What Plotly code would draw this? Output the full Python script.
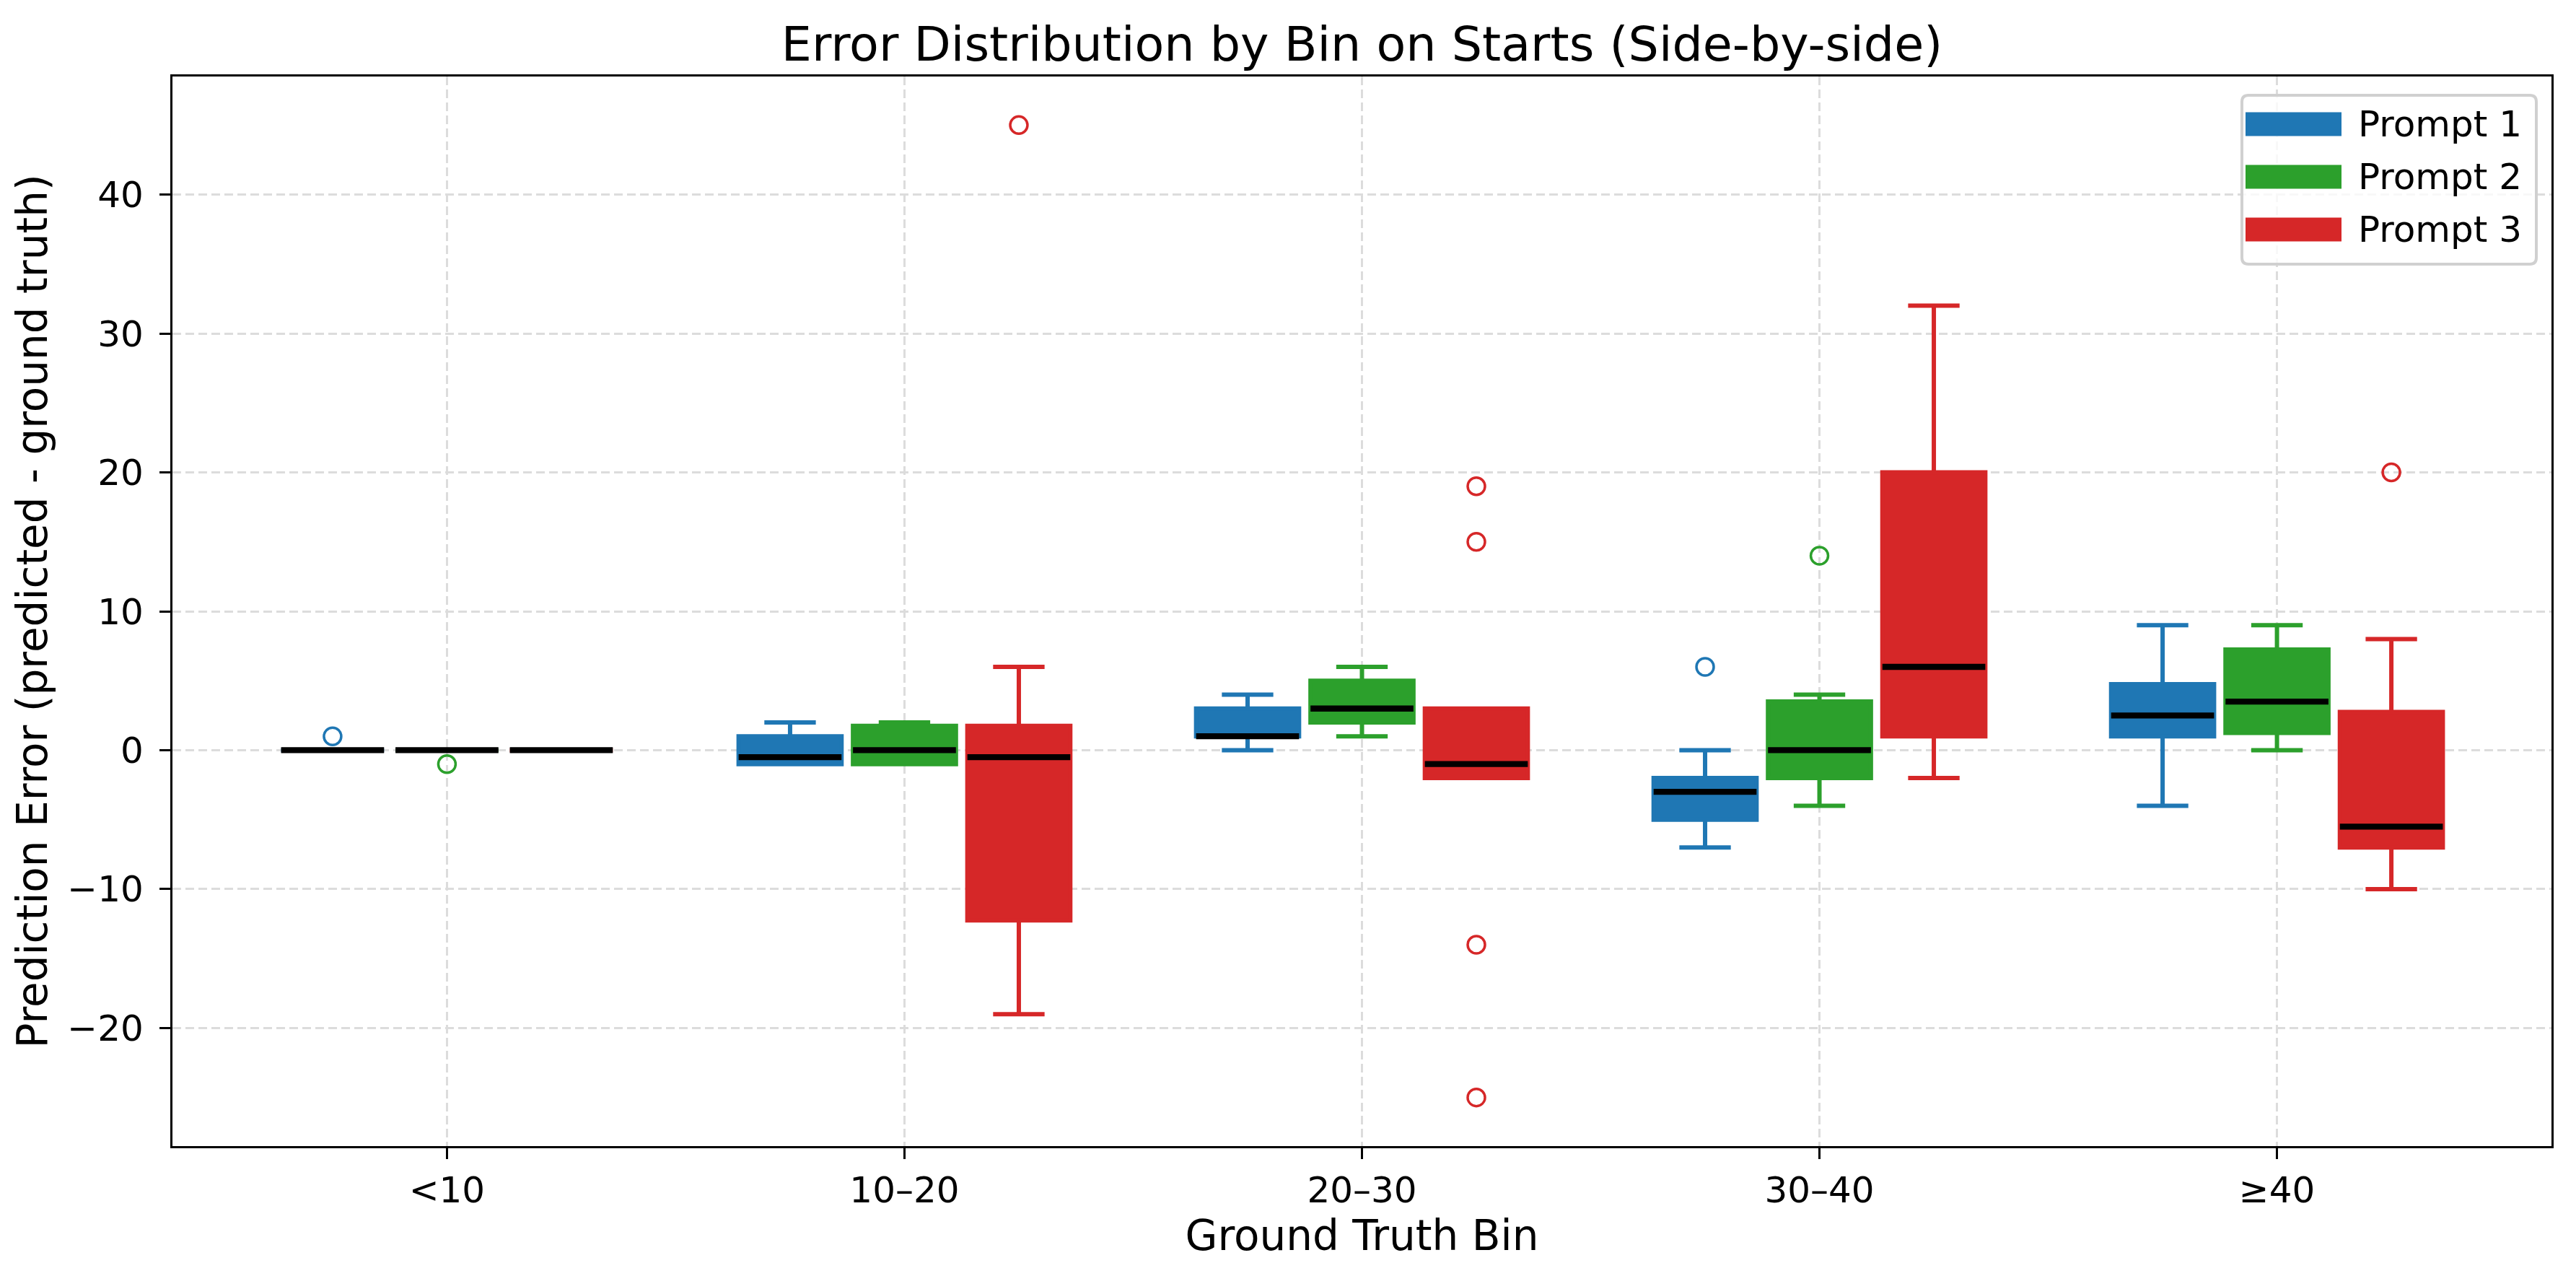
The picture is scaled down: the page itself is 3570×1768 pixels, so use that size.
import plotly.graph_objects as go

# ---------------- data ----------------
bins = ["<10", "10–20", "20–30", "30–40", "≥40"]
prompts = ["Prompt 1", "Prompt 2", "Prompt 3"]
colors = ["#1f77b4", "#2ca02c", "#d62728"]

p1_low = [0, -1, 0, -7, -4]
p1_q1 = [0, -1, 1, -5, 1]
p1_med = [0, -0.5, 1, -3, 2.5]
p1_q3 = [0, 1, 3, -2, 4.75]
p1_high = [0, 2, 4, 0, 9]
p1_out = [[1], [], [], [6], []]

p2_low = [0, -1, 1, -4, 0]
p2_q1 = [0, -1, 2, -2, 1.25]
p2_med = [0, 0, 3, 0, 3.5]
p2_q3 = [0, 1.75, 5, 3.5, 7.25]
p2_high = [0, 2, 6, 4, 9]
p2_out = [[-1], [], [], [14], []]

p3_low = [0, -19, -2, -2, -10]
p3_q1 = [0, -12.25, -2, 1, -7]
p3_med = [0, -0.5, -1, 6, -5.5]
p3_q3 = [0, 1.75, 3, 20, 2.75]
p3_high = [0, 6, 3, 32, 8]
p3_out = [[], [45], [19, 15, -14, -25], [], [20]]

y_ticks = [-20, -10, 0, 10, 20, 30, 40]

series = [
    (p1_low, p1_q1, p1_med, p1_q3, p1_high, p1_out),
    (p2_low, p2_q1, p2_med, p2_q3, p2_high, p2_out),
    (p3_low, p3_q1, p3_med, p3_q3, p3_high, p3_out),
]

# ---------------- styling ----------------
W, H = 3570, 1768
ML, MR, MT, MB = 239, 34, 106, 180
offsets = [-0.25, 0.0, 0.25]
box_w = 0.225
FONT = "DejaVu Sans"

fig = go.Figure()

for k, (low, q1, med, q3, high, outs) in enumerate(series):
    xs = [i + offsets[k] for i in range(len(bins))]
    fig.add_trace(go.Box(
        x=xs, q1=q1, median=med, q3=q3, lowerfence=low, upperfence=high,
        width=box_w, whiskerwidth=0.5,
        line=dict(color=colors[k], width=6),
        fillcolor=colors[k], boxpoints=False, showlegend=False,
        name=prompts[k], hoverinfo="skip",
    ))

for k, (low, q1, med, q3, high, outs) in enumerate(series):
    xs = [i + offsets[k] for i in range(len(bins))]
    mx, my = [], []
    for x, m in zip(xs, med):
        mx += [x - box_w / 2, x + box_w / 2, None]
        my += [m, m, None]
    fig.add_trace(go.Scatter(x=mx, y=my, mode="lines",
                             line=dict(color="black", width=8.3),
                             showlegend=False, hoverinfo="skip"))
    ox, oy = [], []
    for x, o in zip(xs, outs):
        for v in o:
            ox.append(x)
            oy.append(v)
    fig.add_trace(go.Scatter(x=ox, y=oy, mode="markers",
                             marker=dict(symbol="circle-open", size=24,
                                         color=colors[k],
                                         line=dict(width=3.5, color=colors[k])),
                             showlegend=False, hoverinfo="skip"))

# ---------------- custom legend (matplotlib-like) ----------------
PW, PH = W - ML - MR, H - MT - MB


def fx(px):
    return (px - ML) / PW


def fy(py):
    return (H - MB - py) / PH


shapes = []
x0, x1, y0, y1 = 3107, 3515, 132, 366
r = 9
rx, ry = r / PW, r / PH
X0, X1, Y0, Y1 = fx(x0), fx(x1), fy(y1), fy(y0)
path = (f"M{X0+rx},{Y1} L{X1-rx},{Y1} Q{X1},{Y1} {X1},{Y1-ry} "
        f"L{X1},{Y0+ry} Q{X1},{Y0} {X1-rx},{Y0} L{X0+rx},{Y0} "
        f"Q{X0},{Y0} {X0},{Y0+ry} L{X0},{Y1-ry} Q{X0},{Y1} {X0+rx},{Y1} Z")
shapes.append(dict(type="path", xref="paper", yref="paper", path=path,
                   fillcolor="rgba(255,255,255,0.8)",
                   line=dict(color="#d0d0d0", width=4), layer="above"))
annotations = []
row_c = [172, 245, 318]
for k in range(3):
    shapes.append(dict(type="rect", xref="paper", yref="paper",
                       x0=fx(3112), x1=fx(3245),
                       y0=fy(row_c[k] + 16.5), y1=fy(row_c[k] - 16.5),
                       fillcolor=colors[k], line=dict(width=0), layer="above"))
    annotations.append(dict(xref="paper", yref="paper", x=fx(3266), y=fy(row_c[k]),
                            xanchor="left", yanchor="middle", showarrow=False,
                            text=prompts[k], font=dict(family=FONT, size=50, color="black")))

grid_kw = dict(showgrid=True, gridcolor="#dcdcdc", gridwidth=3, griddash="12px,6px")
axis_kw = dict(showline=True, linecolor="black", linewidth=3.3, mirror=True,
               ticks="outside", ticklen=15, tickwidth=3.3, tickcolor="black",
               tickfont=dict(family=FONT, size=50, color="black"), zeroline=False)

fig.update_layout(
    width=W, height=H,
    margin=dict(l=ML, r=MR, t=MT, b=MB),
    plot_bgcolor="white", paper_bgcolor="white",
    boxmode="overlay",
    showlegend=False,
    title=dict(text="Error Distribution by Bin on Starts (Side-by-side)",
               x=0.5, xref="paper", xanchor="center",
               y=1 - 61 / H, yref="container", yanchor="middle",
               font=dict(family=FONT, size=66.7, color="black")),
    xaxis=dict(range=[-0.6, 4.6], tickvals=list(range(len(bins))), ticktext=bins,
               title=dict(text="Ground Truth Bin", standoff=10,
                          font=dict(family=FONT, size=58, color="black")),
               ticklabelstandoff=0,
               **grid_kw, **axis_kw),
    yaxis=dict(range=[-28.5, 48.5], tickvals=y_ticks,
               title=dict(text="Prediction Error (predicted - ground truth)", standoff=10,
                          font=dict(family=FONT, size=58, color="black")),
               ticklabelstandoff=12,
               **grid_kw, **axis_kw),
    shapes=shapes,
    annotations=annotations,
)

fig.write_html("out.html", config={"displayModeBar": False},
               post_script="document.body.style.margin='0px';")
